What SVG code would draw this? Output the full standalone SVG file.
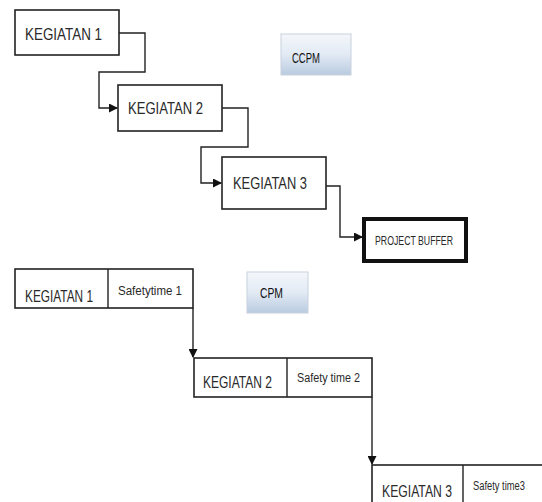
<svg xmlns="http://www.w3.org/2000/svg" width="542" height="502" viewBox="0 0 542 502">
<defs>
<marker id="arr" markerWidth="9" markerHeight="9" refX="8" refY="4.5" orient="auto" markerUnits="userSpaceOnUse">
<path d="M0,0 L9,4.5 L0,9 Z" fill="#111"/>
</marker>
<linearGradient id="btn" x1="0" y1="0" x2="0" y2="1">
<stop offset="0" stop-color="#f4f7fb"/>
<stop offset="0.5" stop-color="#e2eaf4"/>
<stop offset="1" stop-color="#b9cbe0"/>
</linearGradient>
<style>
.box{fill:#fff;stroke:#222;stroke-width:1.6}
.conn{fill:none;stroke:#222;stroke-width:1.4}
.t{font-family:"Liberation Sans",Arial,sans-serif;fill:#2a2a2a}
.bt{font-family:"Liberation Sans",Arial,sans-serif;fill:#111}
.btn{fill:url(#btn);stroke:#c8d2de;stroke-width:1}
</style>
</defs>
<rect width="542" height="502" fill="#fff"/>
<g id="ccpm-label">
<rect class="btn" x="281" y="34" width="70" height="41"/>
<text class="bt" x="292" y="63" font-size="14" textLength="28" lengthAdjust="spacingAndGlyphs">CCPM</text>
</g>
<g id="cpm-label">
<rect class="btn" x="247" y="272" width="61" height="41"/>
<text class="bt" x="260" y="298" font-size="14" textLength="23" lengthAdjust="spacingAndGlyphs">CPM</text>
</g>
<g id="k1">
<rect class="box" x="15" y="10" width="104" height="45"/>
<text class="t" x="25" y="40" font-size="17" textLength="77" lengthAdjust="spacingAndGlyphs">KEGIATAN 1</text>
</g>
<g id="k2">
<rect class="box" x="118" y="85" width="104" height="46"/>
<text class="t" x="128" y="114" font-size="17" textLength="75" lengthAdjust="spacingAndGlyphs">KEGIATAN 2</text>
</g>
<g id="k3">
<rect class="box" x="222" y="157" width="104" height="52"/>
<text class="t" x="233" y="189" font-size="17" textLength="74" lengthAdjust="spacingAndGlyphs">KEGIATAN 3</text>
</g>
<g id="buffer">
<rect x="364" y="219" width="102" height="42" fill="#fff" stroke="#111" stroke-width="4"/>
<text class="t" x="375" y="245" font-size="13" textLength="78" lengthAdjust="spacingAndGlyphs">PROJECT BUFFER</text>
</g>
<g id="c1">
<rect class="box" x="15" y="269" width="178" height="39"/>
<line class="conn" x1="108" y1="269" x2="108" y2="308"/>
<text class="t" x="25" y="302" font-size="17" textLength="68" lengthAdjust="spacingAndGlyphs">KEGIATAN 1</text>
<text class="t" x="118" y="295" font-size="12" textLength="64" lengthAdjust="spacingAndGlyphs">Safetytime 1</text>
</g>
<g id="c2">
<rect class="box" x="194" y="358" width="178" height="39"/>
<line class="conn" x1="287" y1="358" x2="287" y2="397"/>
<text class="t" x="203" y="388" font-size="17" textLength="69" lengthAdjust="spacingAndGlyphs">KEGIATAN 2</text>
<text class="t" x="297" y="382" font-size="12" textLength="63" lengthAdjust="spacingAndGlyphs">Safety time 2</text>
</g>
<g id="c3">
<rect class="box" x="372" y="465" width="200" height="45"/>
<line class="conn" x1="463" y1="465" x2="463" y2="510"/>
<text class="t" x="382" y="497" font-size="17" textLength="70" lengthAdjust="spacingAndGlyphs">KEGIATAN 3</text>
<text class="t" x="473" y="490" font-size="12" textLength="52" lengthAdjust="spacingAndGlyphs">Safety time3</text>
</g>
<g id="connectors">
<path class="conn" d="M119,33 H145 V72 H99 V108 H117" marker-end="url(#arr)"/>
<path class="conn" d="M222,108 H248 V147 H201 V183 H221" marker-end="url(#arr)"/>
<path class="conn" d="M326,186 H340 V237 H362" marker-end="url(#arr)"/>
<path class="conn" d="M193,308 V357" marker-end="url(#arr)"/>
<path class="conn" d="M372,397 V464" marker-end="url(#arr)"/>
</g>
</svg>
